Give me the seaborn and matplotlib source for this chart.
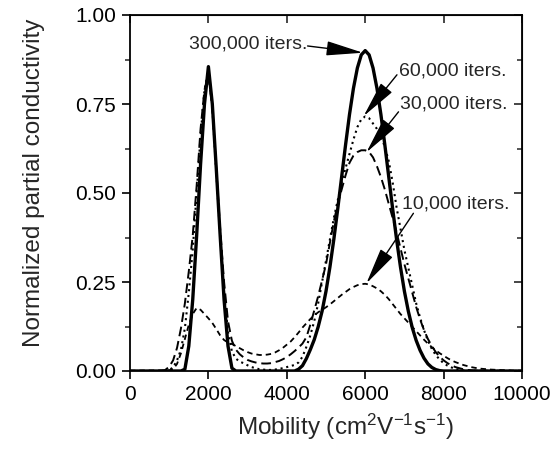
import numpy as np
import pandas as pd
import matplotlib
matplotlib.use("Agg")
import matplotlib.pyplot as plt
import seaborn as sns
from matplotlib.ticker import MultipleLocator, FormatStrFormatter

# ---- data (mobility in cm2/Vs, normalized conductivity) ----
x_300k = [0, 1300] + list(range(1400, 2701, 100)) + list(range(4200, 8001, 100)) + [10000]
y_300k = [0, 0,
          0.005, 0.07, 0.20, 0.38, 0.58, 0.75, 0.855, 0.75, 0.57, 0.38, 0.20, 0.07, 0.008, 0,
          0, 0.005, 0.015, 0.035, 0.06, 0.088, 0.124, 0.168, 0.224, 0.292, 0.370, 0.456,
          0.546, 0.636, 0.721, 0.794, 0.851, 0.888, 0.900, 0.888, 0.851, 0.794, 0.721,
          0.636, 0.546, 0.456, 0.370, 0.292, 0.224, 0.168, 0.122, 0.086, 0.058, 0.036,
          0.020, 0.010, 0.004, 0.001, 0,
          0]

x_60k = [0] + list(range(900, 8601, 100)) + [10000]
y_60k = [0,
         0, 0.003, 0.01, 0.03, 0.06, 0.12, 0.22, 0.34, 0.50, 0.66, 0.79, 0.845,
         0.74, 0.56, 0.38, 0.22, 0.11, 0.055, 0.035, 0.026, 0.022, 0.016, 0.011, 0.008,
         0.005, 0.004, 0.003, 0.003, 0.004, 0.006, 0.008, 0.011, 0.014, 0.017, 0.024,
         0.04, 0.068, 0.10, 0.14, 0.19, 0.25, 0.31, 0.37, 0.43, 0.48, 0.53, 0.57, 0.61,
         0.65, 0.685, 0.707, 0.715, 0.71, 0.695, 0.68, 0.66, 0.63, 0.59, 0.53, 0.46,
         0.40, 0.34, 0.29, 0.24, 0.19, 0.15, 0.115, 0.085, 0.062, 0.045, 0.032, 0.022,
         0.015, 0.010, 0.006, 0.004, 0.002, 0.001,
         0]

x_30k = [0] + list(range(800, 9001, 100)) + [10000]
y_30k = [0,
         0, 0.003, 0.012, 0.03, 0.065, 0.12, 0.19, 0.28, 0.38, 0.52, 0.68, 0.79, 0.83,
         0.74, 0.57, 0.40, 0.25, 0.14, 0.085, 0.06, 0.047, 0.038, 0.031, 0.027, 0.024,
         0.022, 0.021, 0.021, 0.022, 0.025, 0.028, 0.033, 0.039, 0.047, 0.056, 0.066,
         0.077, 0.095, 0.13, 0.17, 0.21, 0.255, 0.30, 0.36, 0.42, 0.47, 0.51, 0.55,
         0.585, 0.605, 0.615, 0.62, 0.62, 0.615, 0.60, 0.575, 0.545, 0.51, 0.47, 0.43,
         0.39, 0.345, 0.30, 0.26, 0.22, 0.18, 0.145, 0.115, 0.09, 0.07, 0.053, 0.04,
         0.03, 0.022, 0.016, 0.011, 0.008, 0.005, 0.003, 0.002, 0.001, 0.001, 0,
         0]

x_10k = [0] + list(range(1000, 9001, 100)) + [9200, 9400, 9600, 9800, 10000]
y_10k = [0.001,
         0.002, 0.005, 0.02, 0.05, 0.09, 0.13, 0.16, 0.177, 0.172, 0.16, 0.148, 0.135,
         0.118, 0.10, 0.087, 0.08, 0.076, 0.07, 0.064, 0.058, 0.053, 0.049, 0.047, 0.045,
         0.045, 0.046, 0.048, 0.052, 0.058, 0.065, 0.074, 0.083, 0.095, 0.108, 0.122,
         0.134, 0.146, 0.156, 0.165, 0.172, 0.179, 0.187, 0.196, 0.205, 0.214, 0.222,
         0.23, 0.236, 0.241, 0.244, 0.245, 0.243, 0.238, 0.232, 0.224, 0.214, 0.202,
         0.188, 0.174, 0.16, 0.148, 0.136, 0.124, 0.112, 0.10, 0.088, 0.077, 0.067,
         0.058, 0.05, 0.043, 0.036, 0.03, 0.025, 0.021, 0.017, 0.014, 0.011, 0.009,
         0.007, 0.006,
         0.004, 0.003, 0.002, 0.001, 0.001]

sns.set_style("ticks")
plt.rcParams['font.family'] = ['Liberation Sans', 'DejaVu Sans']
plt.rcParams['mathtext.default'] = 'regular'

fig = plt.figure(figsize=(5.55, 4.51), dpi=100)
ax = fig.add_axes([130 / 555, 80 / 451, 392 / 555, 356 / 451])

# curves: 10k short dash, 30k dash, 60k dots, 300k thick solid
sns.lineplot(x=x_10k, y=y_10k, ax=ax, color='black', lw=1.3,
             linestyle=(0, (3, 2.2)), estimator=None, sort=False)
sns.lineplot(x=x_30k, y=y_30k, ax=ax, color='black', lw=1.4,
             linestyle=(0, (5, 2.5)), estimator=None, sort=False)
sns.lineplot(x=x_60k, y=y_60k, ax=ax, color='black', lw=1.5,
             linestyle=(0, (1, 1.8)), estimator=None, sort=False)
sns.lineplot(x=x_300k, y=y_300k, ax=ax, color='black', lw=2.4,
             estimator=None, sort=False)

ax.set_xlim(0, 10000)
ax.set_ylim(0, 1.0)
ax.xaxis.set_major_locator(MultipleLocator(2000))
ax.yaxis.set_major_locator(MultipleLocator(0.25))
ax.yaxis.set_minor_locator(MultipleLocator(0.125))
ax.yaxis.set_major_formatter(FormatStrFormatter('%.2f'))

for s in ax.spines.values():
    s.set_visible(True)
    s.set_linewidth(1.3)
    s.set_color('black')

ax.tick_params(axis='both', which='major', direction='out', length=6, width=1.2,
               labelsize=15, colors='black', pad=4)
ax.tick_params(axis='y', which='minor', direction='out', length=3.5, width=1.1)
ax.tick_params(axis='x', which='minor', bottom=False, top=False)

# inward ticks on top and right
ax_top = ax.secondary_xaxis('top')
ax_top.xaxis.set_major_locator(MultipleLocator(2000))
ax_top.tick_params(direction='in', length=6, width=1.2, labeltop=False)
ax_right = ax.secondary_yaxis('right')
ax_right.yaxis.set_major_locator(MultipleLocator(0.25))
ax_right.yaxis.set_minor_locator(MultipleLocator(0.125))
ax_right.tick_params(which='major', direction='in', length=6, width=1.2, labelright=False)
ax_right.tick_params(which='minor', direction='in', length=3.5, width=1.1)

ax.set_xlabel('Mobility (cm$^2$V$^{-1}$s$^{-1}$)', fontsize=17.5, labelpad=6, x=0.55)
ax.set_ylabel('Normalized partial conductivity', fontsize=17.5, labelpad=22, y=0.53)

# labels and arrows
arrow = dict(arrowstyle='-|>,head_length=2.3,head_width=0.45', mutation_scale=10,
             color='black', lw=1.0, shrinkA=0, shrinkB=0)
ax.text(3010, 0.918, '300,000 iters.', fontsize=14, ha='center', va='center')
ax.annotate('', xy=(5944, 0.894), xytext=(4530, 0.913), arrowprops=arrow)
ax.text(8240, 0.843, '60,000 iters.', fontsize=14, ha='center', va='center')
ax.annotate('', xy=(5960, 0.716), xytext=(6810, 0.832), arrowprops=arrow)
ax.text(8270, 0.749, '30,000 iters.', fontsize=14, ha='center', va='center')
ax.annotate('', xy=(6030, 0.614), xytext=(6850, 0.728), arrowprops=arrow)
ax.text(8310, 0.468, '10,000 iters.', fontsize=14, ha='center', va='center')
ax.annotate('', xy=(6030, 0.246), xytext=(7230, 0.443), arrowprops=arrow)

fig.savefig('out.png', dpi=100)
